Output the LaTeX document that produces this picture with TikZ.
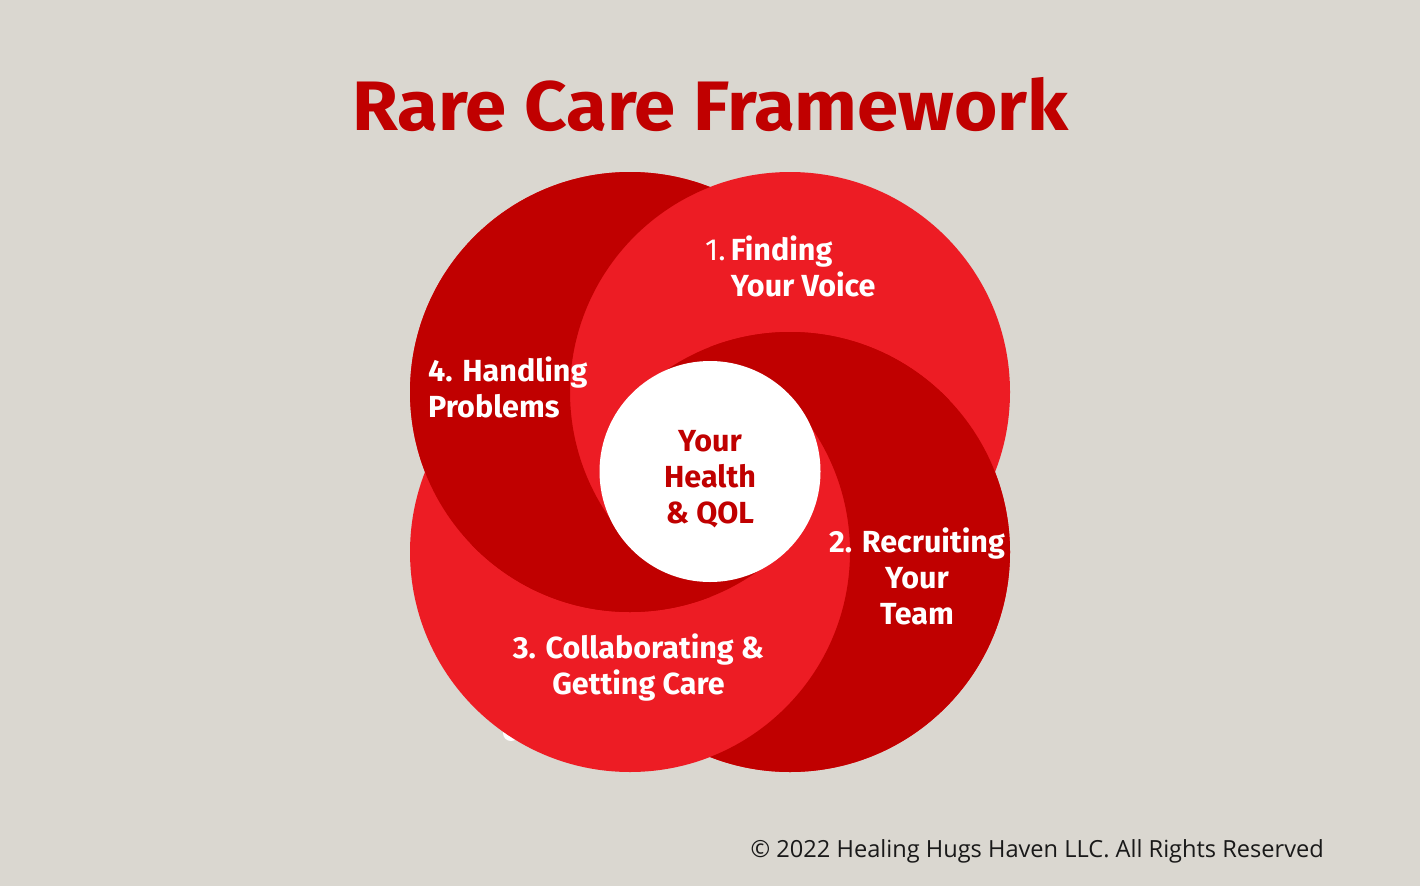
\documentclass[tikz,border=0pt]{standalone}
\usepackage{fontspec}
\usepackage{graphicx}
\newfontfamily\labfont{Fira Sans}
\newfontfamily\copyfont{Open Sans}
\definecolor{bgc}{RGB}{218,215,208}
\definecolor{darkred}{RGB}{192,0,0}
\definecolor{brightred}{RGB}{237,28,36}
\begin{document}
\begin{tikzpicture}[x=1pt,y=-1pt,
  lab/.style={text=white,font=\labfont\bfseries\fontsize{30.5}{36}\selectfont,inner sep=0pt},
  ring/.style={radius=220pt}]
\useasboundingbox (0,0) rectangle (1420,886);
\fill[bgc] (0,0) rectangle (1420,886);
% small white sliver peeking out below the bottom-left circle
\fill[white] (511,733) circle[radius=8pt];
% circles: A top-left (630,392) dark, B top-right (790,392) bright,
% C bottom-right (790,552) dark, D bottom-left (630,552) bright
\fill[brightred] (630,392) circle[ring] (790,392) circle[ring]
                 (790,552) circle[ring] (630,552) circle[ring];
% A visible: A minus (B above y=545)
\begin{scope}[even odd rule]
  \clip (0,0) rectangle (1420,886) (790,392) circle[ring];
  \fill[darkred] (630,392) circle[ring];
\end{scope}
\begin{scope}
  \clip (0,545) rectangle (1420,886);
  \fill[darkred] (630,392) circle[ring];
\end{scope}
% C visible: C minus (D below y=399)
\begin{scope}[even odd rule]
  \clip (0,0) rectangle (1420,886) (630,552) circle[ring];
  \fill[darkred] (790,552) circle[ring];
\end{scope}
\begin{scope}
  \clip (0,0) rectangle (1420,399);
  \fill[darkred] (790,552) circle[ring];
\end{scope}
\fill[white] (710,471.5) circle[radius=110.5pt];
% title
\node[anchor=base,text=darkred,inner sep=0pt,font=\labfont\bfseries\fontsize{70}{70}\selectfont] (title) at (710.5,130) {\scalebox{1.062}[1]{Rare Care Framework}};
% labels (anchored at the baseline of the last line)
\node[lab,anchor=base west,align=left] (l1) at (705,296) {{\mdseries 1.}\,Finding\\\phantom{\mdseries 1.}\,Your Voice};
\node[lab,anchor=base,align=center] (l2) at (917,624) {2. Recruiting\\Your\\Team};
\node[lab,anchor=base,align=center] (l3) at (638.5,694) {3. Collaborating \&\\Getting Care};
\node[lab,anchor=base west,align=left] (l4) at (428,417) {4. Handling\\Problems};
\node[lab,anchor=base,align=center,text=darkred] (center) at (710,523) {Your\\Health\\\& QOL};
\node[anchor=base east,inner sep=0pt,text=black!90,font=\copyfont\fontsize{23.6}{24}\selectfont] (copy) at (1324,857) {© 2022 Healing Hugs Haven LLC. All Rights Reserved};
\end{tikzpicture}
\end{document}
